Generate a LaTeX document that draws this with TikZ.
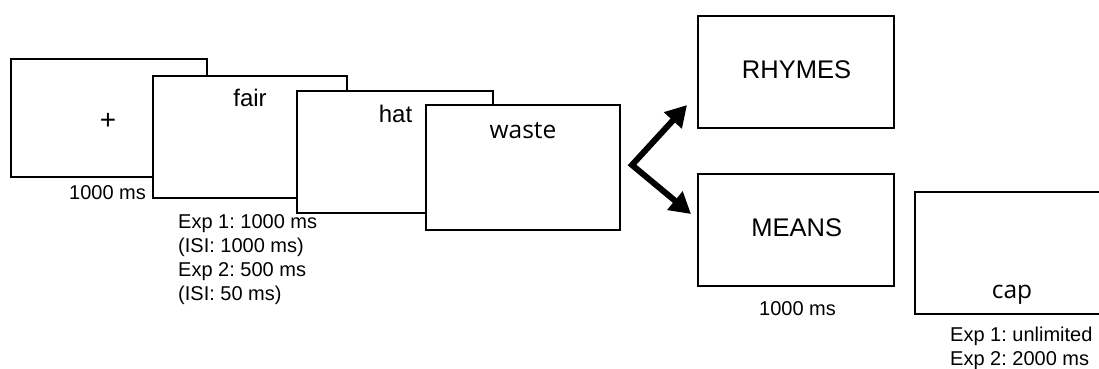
\documentclass[tikz,border=0pt]{standalone}
\usepackage{fontspec}
\setmainfont{Liberation Sans}
\newfontfamily\osans{Open Sans}
\usetikzlibrary{arrows.meta}
\frenchspacing
\begin{document}
\begin{tikzpicture}[x=1pt,y=-1pt,
  screen/.style={draw=black, fill=white, line width=2.2pt, inner sep=0pt, rectangle},
  lbl/.style={font=\fontsize{20}{24}\selectfont, inner sep=0pt, text=black},
  word/.style={font=\fontsize{24}{28}\selectfont, inner sep=0pt, anchor=base},
  sword/.style={font=\osans\fontsize{24.5}{28}\selectfont, inner sep=0pt, anchor=base},
  cap word/.style={font=\fontsize{25.5}{30}\selectfont, inner sep=0pt, anchor=base},
  bigarrow/.style={line width=6pt, line join=miter, {Triangle[width=23pt,length=21pt]}-{Triangle[width=23pt,length=21pt]}}]
\useasboundingbox (0,0) rectangle (1099,368);
\clip (0,0) rectangle (1099,368);

% fixation screen
\node[screen, minimum width=196pt, minimum height=118pt] (b1) at (109,118) {};
\node[word, font=\fontsize{28}{30}\selectfont] (plus) at (108,129) {+};
\node[lbl, anchor=base] (t1) at (107.5,199) {1000 ms};

% prime screens
\node[screen, minimum width=194pt, minimum height=122pt] (b2) at (250,137) {};
\node[word] (fair) at (250,106) {fair};
\node[screen, minimum width=196pt, minimum height=122pt] (b3) at (395,152) {};
\node[word] (hat) at (395.5,122.7) {hat};
\node[screen, minimum width=194pt, minimum height=125pt] (b4) at (523,167.5) {};
\node[sword] (waste) at (523,138.3) {waste};

\node[lbl, anchor=base west] (e1) at (178,228) {Exp 1: 1000 ms};
\node[lbl, anchor=base west] (e2) at (178,252) {(ISI: 1000 ms)};
\node[lbl, anchor=base west] (e3) at (178,276) {Exp 2: 500 ms};
\node[lbl, anchor=base west] (e4) at (178,300) {(ISI: 50 ms)};

% task cue screens
\node[screen, minimum width=196pt, minimum height=112pt] (rh) at (796,72) {};
\node[cap word] (rhymes) at (796.5,78.3) {RHYMES};
\node[screen, minimum width=196pt, minimum height=112pt] (me) at (796,230) {};
\node[cap word] (means) at (796.7,236.7) {MEANS};
\node[lbl, anchor=base] (t2) at (797.5,315) {1000 ms};

% arrows
\coordinate (v) at (632,165);
\coordinate (up) at (687,105);
\coordinate (dn) at (691,214);
\draw[bigarrow] (up) -- (v) -- (dn);

% target screen
\node[screen, minimum width=200pt, minimum height=122pt] (b7) at (1015,253) {};
\node[sword] (cap) at (1012,298.3) {cap};
\node[lbl, anchor=base west] (u1) at (950,341.7) {Exp 1: unlimited};
\node[lbl, anchor=base west] (u2) at (950,365) {Exp 2: 2000 ms};
\end{tikzpicture}
\end{document}
